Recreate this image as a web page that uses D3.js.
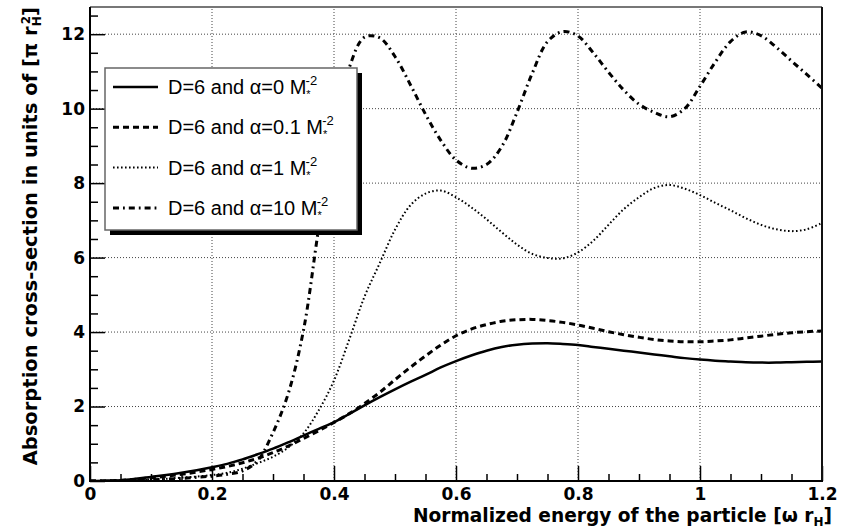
<!DOCTYPE html>
<html>
<head>
<meta charset="utf-8">
<script src="https://cdn.jsdelivr.net/npm/d3@7"></script>
<style>
  html, body { margin: 0; padding: 0; background: #fff; }
  svg { display: block; }
</style>
</head>
<body>
<svg id="chart" width="851" height="528"></svg>
<script>
// Normalized energy of the particle [omega r_H]
const energy = [0, 0.025, 0.05, 0.075, 0.1, 0.125, 0.15, 0.175, 0.2, 0.225, 0.25, 0.275,
  0.3, 0.325, 0.35, 0.375, 0.4, 0.425, 0.45, 0.475, 0.5, 0.525, 0.55, 0.575,
  0.6, 0.625, 0.65, 0.675, 0.7, 0.725, 0.75, 0.775, 0.8, 0.825, 0.85, 0.875,
  0.9, 0.925, 0.95, 0.975, 1.0, 1.025, 1.05, 1.075, 1.1, 1.125, 1.15, 1.175, 1.2];

// Absorption cross-section [pi r_H^2], D=6, for each Gauss-Bonnet coupling alpha
const sigmaAlpha0 = [0, 0.005, 0.02, 0.06, 0.11, 0.16, 0.22, 0.29, 0.37, 0.46, 0.58, 0.72,
  0.87, 1.04, 1.22, 1.40, 1.58, 1.80, 2.03, 2.25, 2.46, 2.66, 2.85, 3.05,
  3.22, 3.37, 3.50, 3.60, 3.66, 3.69, 3.70, 3.68, 3.65, 3.60, 3.55, 3.50,
  3.45, 3.40, 3.35, 3.30, 3.26, 3.23, 3.21, 3.19, 3.18, 3.18, 3.19, 3.20, 3.21];

const sigmaAlpha01 = [0, 0.004, 0.015, 0.045, 0.085, 0.13, 0.18, 0.24, 0.31, 0.39, 0.49, 0.61,
  0.76, 0.94, 1.14, 1.35, 1.57, 1.81, 2.08, 2.38, 2.72, 3.05, 3.36, 3.65,
  3.90, 4.08, 4.20, 4.29, 4.33, 4.34, 4.31, 4.26, 4.19, 4.10, 4.01, 3.93,
  3.86, 3.80, 3.76, 3.74, 3.74, 3.76, 3.79, 3.84, 3.89, 3.94, 3.98, 4.01, 4.03];

const sigmaAlpha1 = [0, 0.002, 0.008, 0.02, 0.04, 0.06, 0.09, 0.12, 0.16, 0.22, 0.33, 0.48,
  0.65, 0.90, 1.28, 1.90, 2.70, 3.80, 4.95, 5.85, 6.75, 7.40, 7.72, 7.80,
  7.62, 7.35, 7.03, 6.68, 6.35, 6.10, 5.99, 5.98, 6.14, 6.45, 6.88, 7.30,
  7.62, 7.87, 7.95, 7.85, 7.68, 7.47, 7.27, 7.06, 6.88, 6.76, 6.71, 6.76, 6.93];

const sigmaAlpha10 = [0, 0.002, 0.006, 0.015, 0.03, 0.05, 0.07, 0.10, 0.13, 0.18, 0.27, 0.55,
  1.30, 2.35, 4.05, 6.80, 9.30, 11.10, 11.92, 11.90, 11.40, 10.65, 9.85, 9.15,
  8.62, 8.40, 8.50, 8.98, 9.90, 10.95, 11.80, 12.07, 11.95, 11.50, 10.98, 10.50,
  10.12, 9.90, 9.78, 10.00, 10.60, 11.25, 11.80, 12.06, 11.96, 11.65, 11.28, 10.92, 10.55];

const seriesLabels = ["D=6 and \u03B1=0 M", "D=6 and \u03B1=0.1 M", "D=6 and \u03B1=1 M", "D=6 and \u03B1=10 M"];

const xTicks = [0, 0.2, 0.4, 0.6, 0.8, 1, 1.2];
const xTickLabels = ["0", "0.2", "0.4", "0.6", "0.8", "1", "1.2"];
const yTicks = [0, 2, 4, 6, 8, 10, 12];
const yTickLabels = ["0", "2", "4", "6", "8", "10", "12"];

const series = [sigmaAlpha0, sigmaAlpha01, sigmaAlpha1, sigmaAlpha10];
const lineStyles = [
  { dash: null,         width: 2.5 },
  { dash: "6,4",        width: 3 },
  { dash: "1.6,2.4",    width: 2 },
  { dash: "6,4,1.8,4",  width: 3 }
];

const svg = d3.select("#chart");
const plotLeft = 90, plotRight = 822, plotTop = 7, plotBottom = 481;
const x = d3.scaleLinear().domain([0, 1.2]).range([plotLeft, plotRight]);
const y = d3.scaleLinear().domain([0, 12.73]).range([plotBottom, plotTop]);

const boldFont = "'DejaVu Sans', sans-serif";
const legendFont = "'Liberation Sans', Arial, sans-serif";

// dotted grid at the major ticks
const grid = svg.append("g")
  .attr("stroke", "#444").attr("stroke-width", 1).attr("stroke-dasharray", "1,2");
xTicks.filter(v => v > 0 && v < 1.2).forEach(v => {
  grid.append("line").attr("x1", x(v)).attr("x2", x(v)).attr("y1", plotBottom).attr("y2", plotTop);
});
yTicks.filter(v => v > 0).forEach(v => {
  grid.append("line").attr("x1", plotLeft).attr("x2", plotRight).attr("y1", y(v)).attr("y2", y(v));
});

// curves
svg.append("clipPath").attr("id", "plotClip")
  .append("rect").attr("x", plotLeft).attr("y", plotTop)
  .attr("width", plotRight - plotLeft).attr("height", plotBottom - plotTop);

const line = d3.line()
  .x((d, i) => x(energy[i]))
  .y(d => y(d))
  .curve(d3.curveCatmullRom.alpha(0.5));

const curves = svg.append("g").attr("clip-path", "url(#plotClip)");
series.forEach((s, k) => {
  curves.append("path")
    .attr("d", line(s))
    .attr("fill", "none")
    .attr("stroke", "#000")
    .attr("stroke-width", lineStyles[k].width)
    .attr("stroke-dasharray", lineStyles[k].dash);
});

// axes with inward ticks
const minorX = d3.range(0, 1.2001, 0.05).filter(v => Math.abs(v / 0.2 - Math.round(v / 0.2)) > 1e-6);
const minorY = d3.range(0, 12.6, 0.5).filter(v => Math.abs(v / 2 - Math.round(v / 2)) > 1e-6);

const xAxisG = svg.append("g").attr("transform", `translate(0,${plotBottom})`);
xAxisG.append("g").call(d3.axisBottom(x).tickValues(minorX).tickSize(-7).tickFormat(""));
const xMajor = xAxisG.append("g").call(
  d3.axisBottom(x).tickValues(xTicks).tickSize(-15).tickFormat((d, i) => xTickLabels[i]));
xMajor.selectAll("text").attr("y", 19).attr("dy", 0)
  .attr("font-family", boldFont).attr("font-weight", "bold").attr("font-size", 17).attr("fill", "#000");

const yAxisG = svg.append("g").attr("transform", `translate(${plotLeft},0)`);
yAxisG.append("g").call(d3.axisLeft(y).tickValues(minorY).tickSize(-8).tickFormat(""));
const yMajor = yAxisG.append("g").call(
  d3.axisLeft(y).tickValues(yTicks).tickSize(-15).tickFormat((d, i) => yTickLabels[i]));
yMajor.selectAll("text").attr("x", -5)
  .attr("font-family", boldFont).attr("font-weight", "bold").attr("font-size", 17).attr("fill", "#000");

svg.selectAll(".domain").remove();
svg.selectAll(".tick line").attr("stroke", "#000").attr("stroke-width", 1.5);

// frame
svg.append("line").attr("x1", plotLeft).attr("x2", plotRight).attr("y1", plotTop).attr("y2", plotTop)
  .attr("stroke", "#777").attr("stroke-width", 2);
svg.append("line").attr("x1", plotRight).attr("x2", plotRight).attr("y1", plotTop).attr("y2", plotBottom)
  .attr("stroke", "#111").attr("stroke-width", 2);
svg.append("line").attr("x1", plotLeft).attr("x2", plotLeft).attr("y1", plotTop).attr("y2", plotBottom + 1)
  .attr("stroke", "#000").attr("stroke-width", 2);
svg.append("line").attr("x1", plotLeft - 1).attr("x2", plotRight + 1).attr("y1", plotBottom).attr("y2", plotBottom)
  .attr("stroke", "#000").attr("stroke-width", 2);

// axis titles
const xTitle = svg.append("text")
  .attr("x", 832).attr("y", 522).attr("text-anchor", "end")
  .attr("font-family", boldFont).attr("font-weight", "bold").attr("font-size", 18.6).attr("fill", "#000");
xTitle.append("tspan").text("Normalized energy of the particle [\u03C9 r");
xTitle.append("tspan").attr("font-size", 12).attr("dy", 4).text("H");
xTitle.append("tspan").attr("dy", -4).text("]");

const yTitle = svg.append("text")
  .attr("transform", "translate(37,7) rotate(-90)")
  .attr("text-anchor", "end")
  .attr("font-family", boldFont).attr("font-weight", "bold").attr("font-size", 19.5).attr("fill", "#000");
yTitle.append("tspan").text("Absorption cross-section in units of [\u03C0 r");
yTitle.append("tspan").attr("font-size", 12).attr("dy", 4).text("H");
yTitle.append("tspan").attr("font-size", 12).attr("dx", -8).attr("dy", -11).text("2");
yTitle.append("tspan").attr("dy", 7).text("]");

// legend
const lg = svg.append("g").attr("transform", "translate(105,68)");
const lgW = 252, lgH = 162;
lg.append("rect").attr("x", 5).attr("y", 5).attr("width", lgW).attr("height", lgH).attr("fill", "#000");
lg.append("rect").attr("x", 0).attr("y", 0).attr("width", lgW).attr("height", lgH)
  .attr("fill", "#fff").attr("stroke", "#666").attr("stroke-width", 1.5);

seriesLabels.forEach((label, k) => {
  const cy = 19 + k * 40.3;
  lg.append("line").attr("x1", 8).attr("x2", 53).attr("y1", cy).attr("y2", cy)
    .attr("stroke", "#000").attr("stroke-width", lineStyles[k].width)
    .attr("stroke-dasharray", lineStyles[k].dash);
  const t = lg.append("text").attr("x", 63).attr("y", cy + 7)
    .attr("font-family", legendFont).attr("font-size", 20).attr("fill", "#000");
  t.append("tspan").text(label);
  t.append("tspan").attr("font-size", 11).attr("dy", 4).text("*");
  t.append("tspan").attr("font-size", 13).attr("dx", -5).attr("dy", -13).text("-2");
});
</script>
</body>
</html>
